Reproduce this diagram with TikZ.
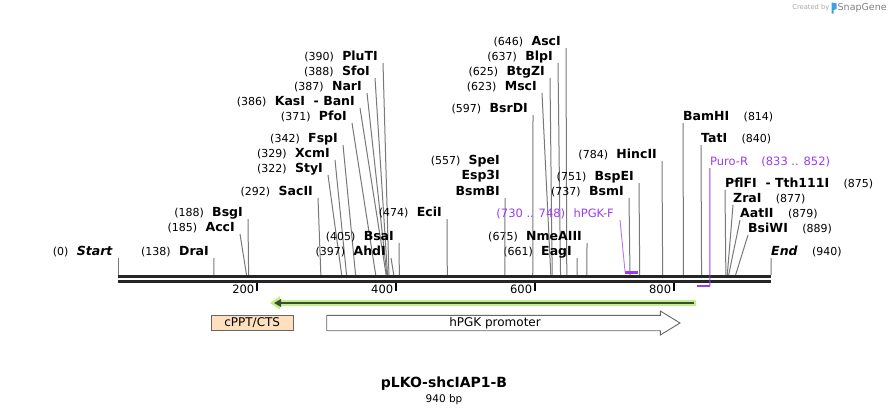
\documentclass[tikz,border=0pt]{standalone}
\usepackage{fontspec}
\setmainfont{DejaVu Sans}
\usetikzlibrary{arrows.meta,positioning}
\definecolor{sitegray}{RGB}{120,120,120}
\definecolor{primer}{RGB}{155,60,240}
\definecolor{peach}{RGB}{255,224,190}
\definecolor{featgreen}{RGB}{190,240,140}
\definecolor{featdark}{RGB}{60,75,50}
\definecolor{snapblue}{RGB}{60,160,225}
\tikzset{
  site label/.style={font=\bfseries\fontsize{12.5}{14}\selectfont, inner sep=0pt, text height=9pt, text depth=2.5pt},
  num label/.style={font=\fontsize{11}{13}\selectfont, inner sep=0pt, text height=9pt, text depth=2.5pt},
  primer label/.style={font=\fontsize{11.5}{13}\selectfont, text=primer, inner sep=0pt, text height=9pt, text depth=2.5pt},
  tick label/.style={font=\fontsize{11.5}{13}\selectfont, inner sep=0pt},
  site line/.style={draw=sitegray, line width=1pt},
  backbone/.style={draw=black!85, line width=2.8pt},
  tick/.style={draw=black, line width=2pt},
  primer bar/.style={draw=primer, line width=2.5pt},
  feature line/.style={draw=black!60, line width=0.9pt},
  feature text/.style={font=\fontsize{12}{14}\selectfont, inner sep=1pt}
}
\begin{document}
\begin{tikzpicture}[x=1pt, y=-1pt]
\useasboundingbox (0,0) rectangle (890,415);

% sites labelled on the left of their line
\foreach \p/\tx/\ty/\name [count=\i] in {0/118/258/{\textit{Start}}, 138/214/258/DraI,
  185/240/234/AccI, 188/248/219/BsgI, 292/318/198/SacII, 322/328/175/StyI,
  329/335/160/XcmI, 342/343/145/FspI, 371/352/123/PfoI, 386/360/108/{KasI\ \ - BanI},
  387/367/93/NarI, 388/375/78/SfoI, 390/383/63/PluTI, 397/391/258/AhdI,
  405/399/243/BsaI, 474/447/219/EciI, 597/533/115/BsrDI, 623/542/93/MscI,
  625/550/78/BtgZI, 637/558/63/BlpI, 646/566/48/AscI, 661/577/258/EagI,
  675/587/243/NmeAIII, 737/629/198/BsmI, 751/639/183/BspEI, 784/662/161/HincII} {
  \coordinate (s\i) at ({118+0.6947*\p},275);
  \node[site label, anchor=south east] (n\i) at ({\tx-5},\ty) {\name};
  \node[num label, left=8pt of n\i] (m\i) {(\p)};
  \draw[site line] ([xshift=5pt]n\i.south east) -- (s\i);
}

% sites labelled on the right of their line
\foreach \p/\tx/\ty/\name [count=\i] in {814/683/123/BamHI, 840/701/145/TatI,
  875/725/190/{PflFI\ \ - Tth111I}, 877/733/205/ZraI, 879/740/220/AatII,
  889/748/235/BsiWI, 940/771/258/{\textit{End}}} {
  \coordinate (t\i) at ({118+0.6947*\p},275);
  \node[site label, anchor=south west] (r\i) at (\tx,\ty) {\name};
  \node[num label, right=14pt of r\i] (q\i) {(\p)};
  \draw[site line] (r\i.south west) -- (t\i);
}

% SpeI / Esp3I / BsmBI share one site
\coordinate (s557) at ({118+0.6947*557},275);
\node[site label, anchor=south east] (bsmbi) at (500,198) {BsmBI};
\node[site label, above=3.5pt of bsmbi.north east, anchor=south east] (esp3i) {Esp3I};
\node[site label, above=3.5pt of esp3i.north east, anchor=south east] (spei) {SpeI};
\node[num label, left=8pt of spei] (spei num) {(557)};
\draw[site line] ([xshift=5pt]bsmbi.south east) -- (s557);

% backbone
\coordinate (start) at (118,276.7);
\coordinate (end) at (771,276.7);
\draw[backbone] (start) -- (end);
\draw[backbone] ([yshift=-4.6pt]start) -- ([yshift=-4.6pt]end);

% ruler ticks
\foreach \t in {200,400,600,800} {
  \coordinate (k\t) at ({118+0.6947*\t},282.5);
  \draw[tick] (k\t) -- ++(0,8.5);
  \node[tick label, anchor=east] (kl\t) at ([xshift=-2.5pt,yshift=-6.5pt]k\t) {\t};
}

% primers
\coordinate (pgkf a) at ({118+0.6947*730},272.5);
\coordinate (pgkf b) at ({118+0.6947*748},272.5);
\draw[primer bar] (pgkf a) -- (pgkf b);
\node[primer label, anchor=south east] (pgkf) at (614,220) {hPGK-F};
\node[primer label, left=8pt of pgkf] (pgkf num) {(730 .. 748)};
\draw[draw=primer!70, line width=0.9pt] ([xshift=6pt]pgkf.south east) -- (pgkf a);

\coordinate (puro a) at ({118+0.6947*833},286);
\coordinate (puro b) at ({118+0.6947*852},286);
\draw[primer bar] (puro a) -- (puro b);
\node[primer label, anchor=south west] (puro) at (709.9,168) {Puro-R};
\node[primer label, right=13pt of puro] (puro num) {(833 .. 852)};
\draw[draw=primer, line width=1pt] (puro.south west) -- (puro b);

% features
\draw[featgreen, line width=6.5pt, -{Triangle[length=10pt,width=13pt]}] (696,303) -- (270,303);
\draw[featdark, line width=2.5pt, -{Triangle[length=7pt,width=7.5pt]}] (694,303) -- (274,303);

\node[feature text, feature line, fill=peach, minimum width=82.3pt, minimum height=15.4pt] (cppt) at (252.2,323) {cPPT/CTS};

\draw[feature line, fill=white] (326.7,315.3) -- (660.3,315.3) -- (660.3,311) -- (680,323)
  -- (660.3,335) -- (660.3,330.7) -- (326.7,330.7) -- cycle;
\node[feature text] (hpgk) at (495,323) {hPGK promoter};

% title
\node[font=\bfseries\fontsize{14}{16}\selectfont, inner sep=0pt] (title) at (444,384) {pLKO-shcIAP1-B};
\node[font=\fontsize{10.5}{12}\selectfont, inner sep=0pt] (size) at (444,399.5) {940 bp};

% credit
\node[font=\fontsize{6.7}{8}\selectfont, text=black!35, inner sep=0pt, anchor=east] (credit) at (829.5,7.5) {Created by};
\fill[snapblue] (831.5,2.5) -- (836.5,3.5) -- (836.5,9) -- (833.5,10) -- (833.5,13.5) -- (831.5,13.5) -- cycle;
\node[font=\fontsize{9.5}{11}\selectfont, text=black!50, inner sep=0pt, anchor=west] (snapgene) at (837.5,7.5) {SnapGene};
\end{tikzpicture}
\end{document}
